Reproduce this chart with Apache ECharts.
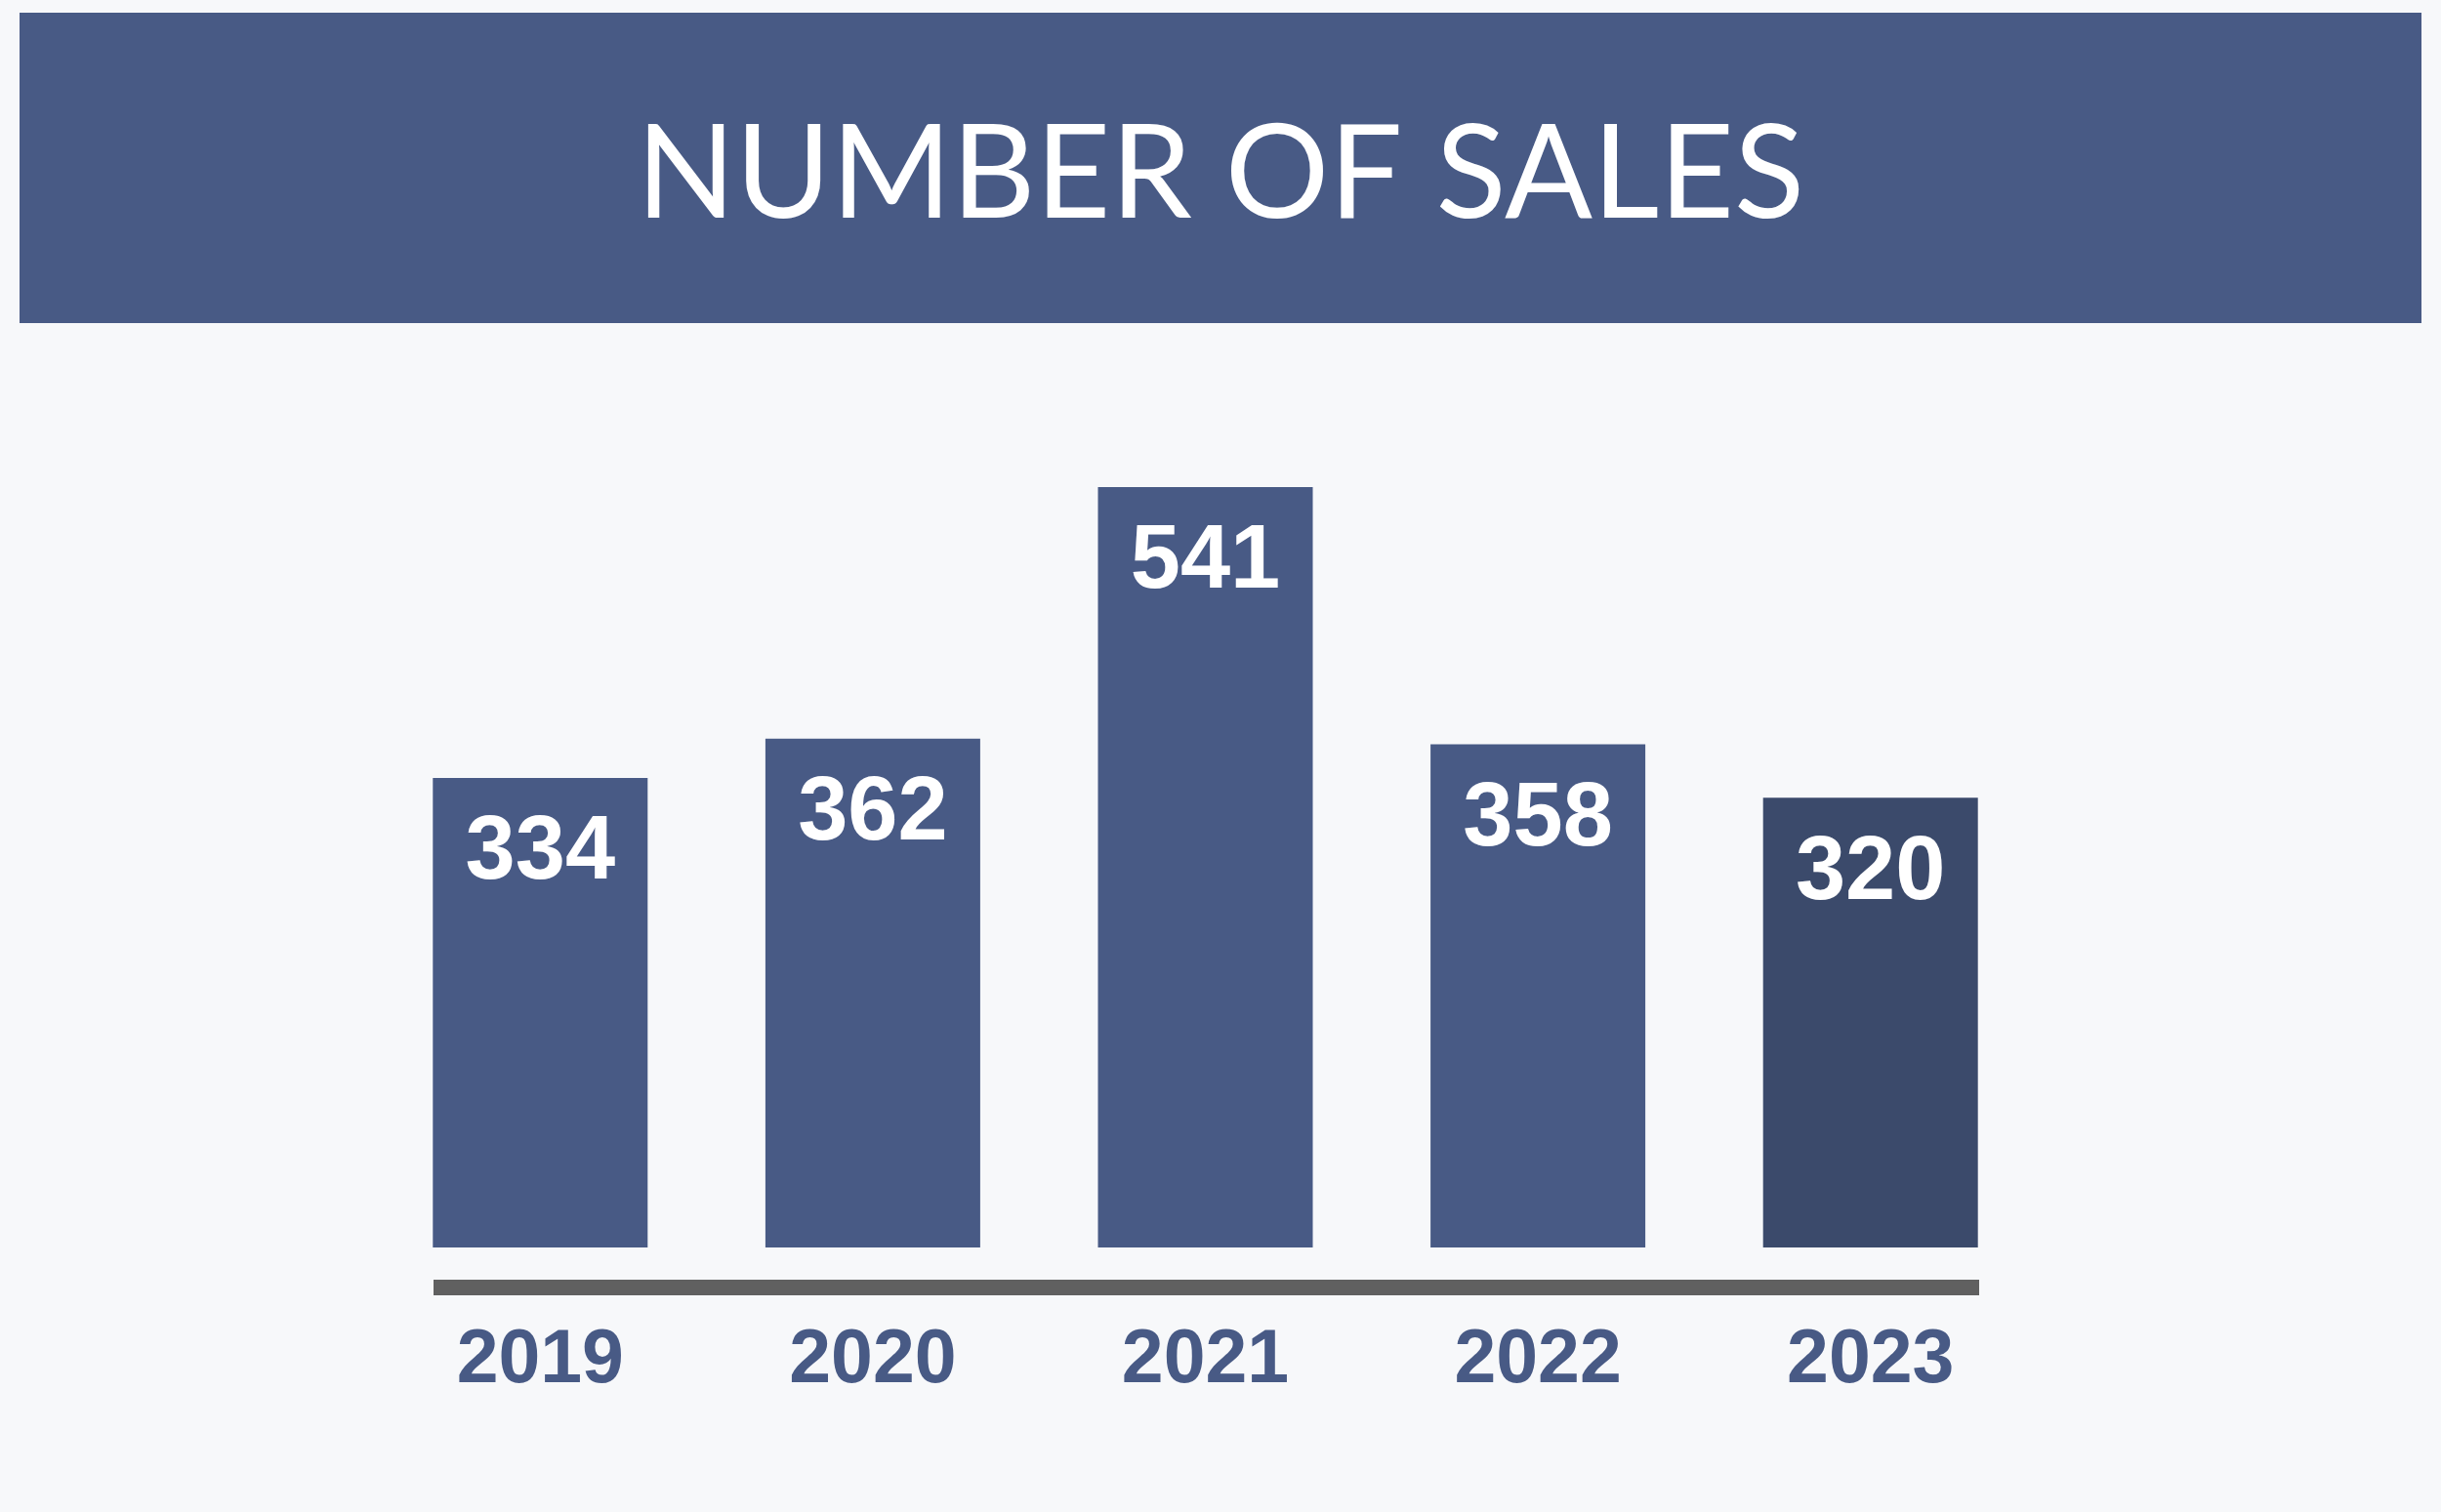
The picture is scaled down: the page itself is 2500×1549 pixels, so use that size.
<!DOCTYPE html>
<html>
<head>
<meta charset="utf-8">
<script src="https://cdn.jsdelivr.net/npm/echarts@6/dist/echarts.min.js"></script>
<style>
html,body{margin:0;padding:0;background:#f7f8fa;}
#chart{width:2500px;height:1549px;}
</style>
</head>
<body>
<div id="chart"></div>
<script>
const titleText = 'NUMBER OF SALES';
const years = ['2019', '2020', '2021', '2022', '2023'];
const sales = [334, 362, 541, 358, 320];
const highlightIndex = 4;

const barColor = '#485a85';
const highlightColor = '#3b4a6b';

const chart = echarts.init(document.getElementById('chart'));
chart.setOption({
  backgroundColor: '#f7f8fa',
  animation: false,
  graphic: [{
    type: 'rect',
    left: 20, top: 13,
    shape: {width: 2460, height: 318},
    style: {fill: barColor},
    z: -1
  }],
  title: {
    text: titleText,
    left: 'center',
    top: 109,
    textStyle: {
      color: '#ffffff',
      fontFamily: 'Lato',
      fontWeight: 'normal',
      fontSize: 133
    }
  },
  grid: [
    {left: 383, right: 414, top: 414, bottom: 271},
    {left: 444, right: 473, top: 1300, bottom: 230.5}
  ],
  xAxis: [{
    type: 'category',
    gridIndex: 0,
    data: years,
    axisLine: {show: false},
    axisTick: {show: false},
    axisLabel: {
      margin: 78,
      color: barColor,
      fontFamily: 'Liberation Sans',
      fontWeight: 'bold',
      fontSize: 77
    }
  }, {
    type: 'value',
    gridIndex: 1,
    min: 0, max: 1,
    axisLine: {show: true, lineStyle: {color: '#606060', width: 16, cap: 'butt'}},
    axisTick: {show: false},
    axisLabel: {show: false},
    splitLine: {show: false}
  }],
  yAxis: [{
    type: 'value',
    gridIndex: 0,
    min: 0, max: 600,
    show: false
  }, {
    type: 'value',
    gridIndex: 1,
    show: false
  }],
  series: [{
    type: 'bar',
    xAxisIndex: 0,
    yAxisIndex: 0,
    barWidth: 220,
    data: sales.map((v, i) => ({
      value: v,
      itemStyle: {color: i === highlightIndex ? highlightColor : barColor}
    })),
    label: {
      show: true,
      position: 'insideTop',
      distance: 32,
      color: '#ffffff',
      fontFamily: 'Liberation Sans',
      fontWeight: 'bold',
      fontSize: 92
    }
  }]
});
</script>
</body>
</html>
